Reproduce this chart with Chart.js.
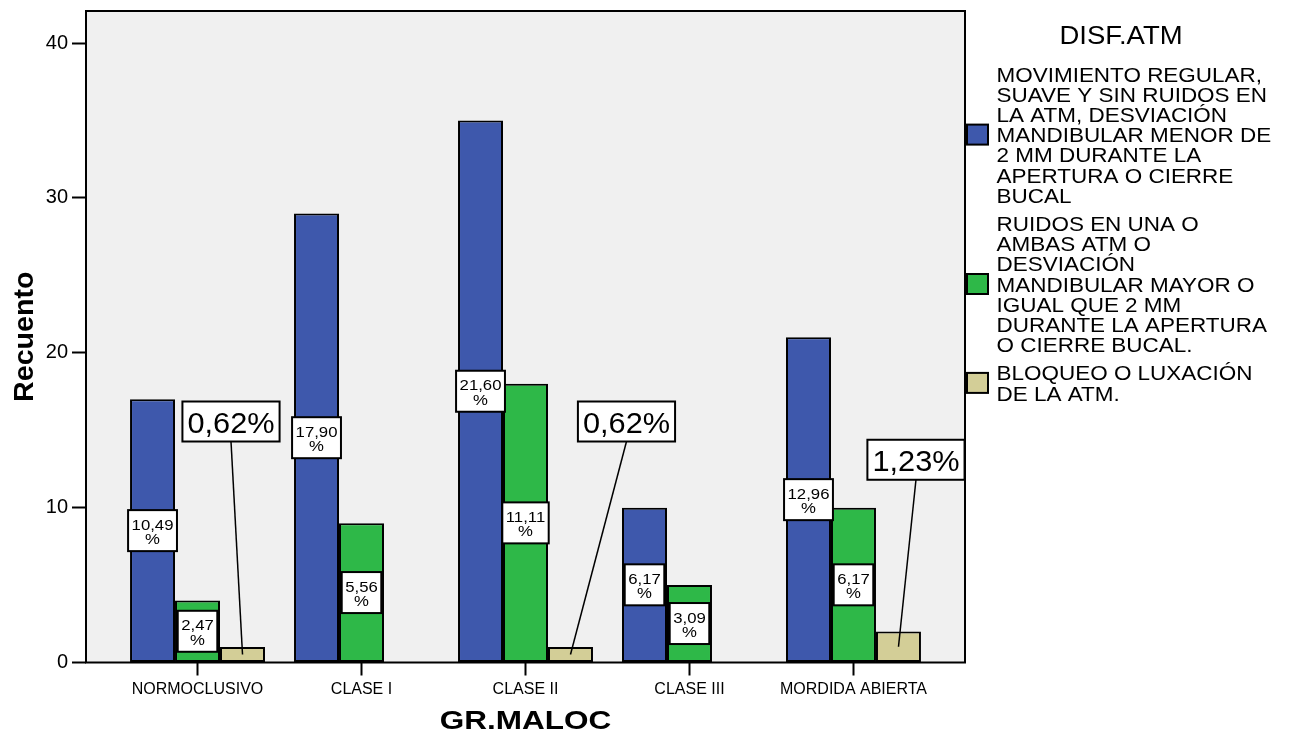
<!DOCTYPE html>
<html>
<head>
<meta charset="utf-8">
<script src="https://cdn.jsdelivr.net/npm/chart.js@4.4.1/dist/chart.umd.min.js"></script>
<style>
  html, body { margin: 0; padding: 0; background: #ffffff; }
  #wrap { width: 1291px; height: 736px; position: relative; }
  canvas { display: block; }
</style>
</head>
<body>
<div id="wrap"><canvas id="chart" width="1291" height="736"></canvas></div>
<script>
// ---- data ----
const categories = ['NORMOCLUSIVO', 'CLASE I', 'CLASE II', 'CLASE III', 'MORDIDA ABIERTA'];
const xTitle = 'GR.MALOC';
const yTitle = 'Recuento';
const legendTitle = 'DISF.ATM';

// legend text, one entry per series, already broken into lines
const regularLabel = ['MOVIMIENTO REGULAR,', 'SUAVE Y SIN RUIDOS EN', 'LA ATM, DESVIACIÓN', 'MANDIBULAR MENOR DE', '2 MM DURANTE LA', 'APERTURA O CIERRE', 'BUCAL'];
const ruidosLabel = ['RUIDOS EN UNA O', 'AMBAS ATM O', 'DESVIACIÓN', 'MANDIBULAR MAYOR O', 'IGUAL QUE 2 MM', 'DURANTE LA APERTURA', 'O CIERRE BUCAL.'];
const bloqueoLabel = ['BLOQUEO O LUXACIÓN', 'DE LA ATM.'];

// counts per group
const regularValues = [17, 29, 35, 10, 21];
const ruidosValues  = [4, 9, 18, 5, 10];
const bloqueoValues = [1, null, 1, null, 2];

const yTicks = [0, 10, 20, 30, 40];

// ---- styling ----
const FONT = '"Liberation Sans", Arial, Helvetica, sans-serif';
const seriesColors = ['#3E58AC', '#2EB848', '#D3CE97'];
const plotBg = '#F0F0F0';

const seriesLabels = [regularLabel, ruidosLabel, bloqueoLabel];
const seriesValues = [regularValues, ruidosValues, bloqueoValues];
const total = seriesValues.flat().reduce((a, v) => a + (v || 0), 0);
const pctText = v => (v / total * 100).toFixed(2).replace('.', ',');

// where each small-bar callout box sits, relative to its bar (px)
const calloutPlacement = [
  { dx: -11.5, dy: -213 },
  null,
  { dx: 56, dy: -213 },
  null,
  { dx: 17.5, dy: -167 }
];

function stretchedText(ctx, text, x, y, sx, align) {
  ctx.save();
  ctx.translate(x, y);
  ctx.scale(sx, 1);
  ctx.textAlign = align;
  ctx.textBaseline = 'alphabetic';
  ctx.fillText(text, 0, 0);
  ctx.restore();
}

const plotFrame = {
  id: 'plotFrame',
  beforeDraw(chart) {
    const { ctx, chartArea: a } = chart;
    ctx.save();
    ctx.fillStyle = '#ffffff';
    ctx.fillRect(0, 0, chart.width, chart.height);
    ctx.fillStyle = plotBg;
    ctx.fillRect(a.left, a.top, a.right - a.left, a.bottom - a.top);
    ctx.restore();
  },
  afterDatasetsDraw(chart) {
    const { ctx, chartArea: a } = chart;
    ctx.save();
    ctx.strokeStyle = '#000';
    ctx.lineWidth = 2;
    ctx.strokeRect(a.left, a.top, a.right - a.left, a.bottom - a.top);
    ctx.restore();
  }
};

const valueLabels = {
  id: 'valueLabels',
  afterDatasetsDraw(chart) {
    const ctx = chart.ctx;
    ctx.save();
    ctx.fillStyle = '#000';
    ctx.strokeStyle = '#000';
    // in-bar two-line percentage boxes
    [0, 1].forEach(d => {
      const meta = chart.getDatasetMeta(d);
      seriesValues[d].forEach((v, i) => {
        if (v === null) return;
        const el = meta.data[i];
        const cx = el.x;
        const cy = (el.y + el.base) / 2;
        const t = pctText(v);
        ctx.font = '15.5px ' + FONT;
        const w = ctx.measureText(t).width * 1.08 + 7;
        const h = 41;
        ctx.fillStyle = '#fff';
        ctx.fillRect(cx - w / 2, cy - h / 2, w, h);
        ctx.lineWidth = 2;
        ctx.strokeRect(cx - w / 2, cy - h / 2, w, h);
        ctx.fillStyle = '#000';
        stretchedText(ctx, t, cx, cy - 1, 1.08, 'center');
        stretchedText(ctx, '%', cx, cy + 13.5, 1.08, 'center');
      });
    });
    // callouts for the short bars
    const meta = chart.getDatasetMeta(2);
    seriesValues[2].forEach((v, i) => {
      if (v === null || !calloutPlacement[i]) return;
      const el = meta.data[i];
      const midY = (el.y + el.base) / 2;
      const p = calloutPlacement[i];
      const cx = el.x + p.dx;
      const bottom = midY + p.dy;
      const h = 40;
      const top = bottom - h;
      const t = pctText(v) + '%';
      ctx.font = '29px ' + FONT;
      const w = ctx.measureText(t).width * 1.06 + 10;
      ctx.lineWidth = 1.5;
      ctx.beginPath();
      ctx.moveTo(cx, bottom);
      ctx.lineTo(el.x, midY);
      ctx.stroke();
      ctx.fillStyle = '#fff';
      ctx.fillRect(cx - w / 2, top, w, h);
      ctx.lineWidth = 2;
      ctx.strokeRect(cx - w / 2, top, w, h);
      ctx.fillStyle = '#000';
      stretchedText(ctx, t, cx, top + 31, 1.06, 'center');
    });
    ctx.restore();
  }
};

const titlesAndLegend = {
  id: 'titlesAndLegend',
  afterDraw(chart) {
    const { ctx, chartArea: a } = chart;
    ctx.save();
    ctx.fillStyle = '#000';
    // axis titles
    ctx.font = 'bold 25px ' + FONT;
    stretchedText(ctx, xTitle, (a.left + a.right) / 2, 728.5, 1.26, 'center');
    ctx.save();
    ctx.translate(33, (a.top + a.bottom) / 2);
    ctx.rotate(-Math.PI / 2);
    ctx.font = 'bold 27px ' + FONT;
    stretchedText(ctx, yTitle, 0, 0, 1.06, 'center');
    ctx.restore();

    // legend
    ctx.font = '25px ' + FONT;
    stretchedText(ctx, legendTitle, 1121, 43.5, 1.1, 'center');
    const pitch = 20.2, gap = 8, cap = 15;
    let base = 81.5;
    ctx.font = '21px ' + FONT;
    seriesLabels.forEach((lines, s) => {
      const first = base;
      lines.forEach((ln, k) => {
        ctx.fillStyle = '#000';
        stretchedText(ctx, ln, 996.5, base + k * pitch, 1.07, 'left');
      });
      const last = base + (lines.length - 1) * pitch;
      const mid = (first - cap + last) / 2;
      ctx.fillStyle = seriesColors[s];
      ctx.fillRect(967, mid - 10, 21, 20);
      ctx.lineWidth = 2;
      ctx.strokeStyle = '#000';
      ctx.strokeRect(967, mid - 10, 21, 20);
      base = last + pitch + gap;
    });
    ctx.restore();
  }
};

const datasets = seriesValues.map((vals, s) => ({
  label: seriesLabels[s].join(' '),
  data: vals.map((v, i) => ({ x: i, y: v })),
  backgroundColor: seriesColors[s],
  borderColor: '#000',
  borderWidth: 2,
  borderSkipped: false,
  categoryPercentage: 0.823,
  barPercentage: 1.0
}));

new Chart(document.getElementById('chart'), {
  type: 'bar',
  data: { datasets },
  plugins: [plotFrame, valueLabels, titlesAndLegend],
  options: {
    responsive: false,
    animation: false,
    devicePixelRatio: 1,
    layout: { padding: { top: 11, right: 326, bottom: 0, left: 0 } },
    plugins: { legend: { display: false }, tooltip: { enabled: false } },
    scales: {
      x: {
        type: 'linear',
        min: -0.68,
        max: 4.68,
        offset: false,
        afterBuildTicks: s => { s.ticks = categories.map((_, i) => ({ value: i })); },
        afterFit: s => { s.height = 73.5; s.paddingLeft = 0; s.paddingRight = 0; },
        ticks: {
          callback: v => categories[v] ?? '',
          autoSkip: false, maxRotation: 0, minRotation: 0,
          padding: 4, color: '#000',
          font: { family: FONT, size: 16 }
        },
        grid: { offset: false, drawOnChartArea: false, drawTicks: true, tickLength: 13, tickWidth: 2, tickColor: '#000' },
        border: { display: false }
      },
      y: {
        min: 0,
        max: 42.07,
        afterBuildTicks: s => { s.ticks = yTicks.map(v => ({ value: v })); },
        afterFit: s => { s.width = 86; s.paddingTop = 0; s.paddingBottom = 0; },
        ticks: { padding: 4, color: '#000', font: { family: FONT, size: 20 } },
        grid: { offset: false, drawOnChartArea: false, drawTicks: true, tickLength: 14, tickWidth: 2, tickColor: '#000' },
        border: { display: false }
      }
    }
  }
});
</script>
</body>
</html>
